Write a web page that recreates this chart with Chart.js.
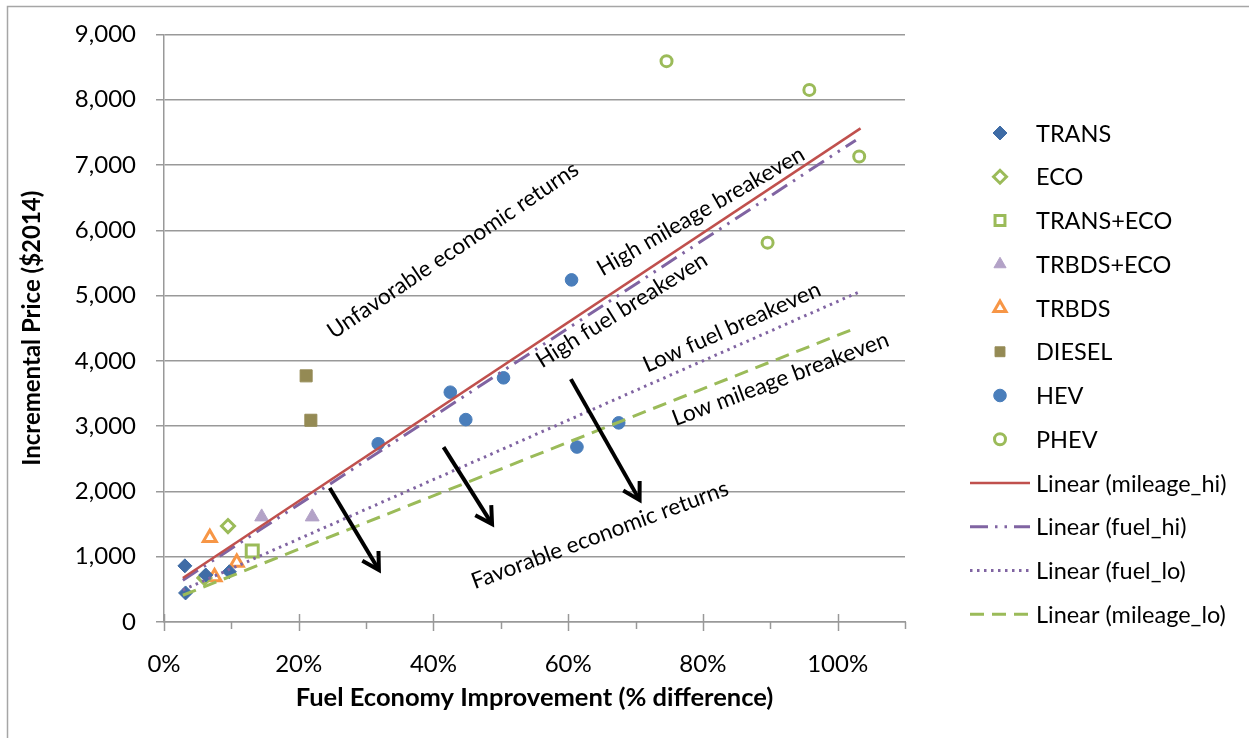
<!DOCTYPE html>
<html><head><meta charset="utf-8">
<script src="https://cdn.jsdelivr.net/npm/chart.js@4.4.1/dist/chart.umd.min.js"></script>
<style>html,body{margin:0;padding:0;background:#fff;}canvas{display:block;}</style>
</head><body>
<canvas id="c" width="1249" height="738"></canvas>
<script>
// ---------- data ----------
const xMin = 0, xMax = 110, xLabelStep = 20, xMinorStep = 10;
const yMin = 0, yMax = 9000, yStep = 1000;
const xTitle = 'Fuel Economy Improvement (% difference)';
const yTitle = 'Incremental Price ($2014)';

const seriesNames = ['TRANS','ECO','TRANS+ECO','TRBDS+ECO','TRBDS','DIESEL','HEV','PHEV'];
const transX = [3.1, 3.2, 6.2, 9.7];
const transY = [860, 445, 720, 770];
const ecoX = [9.5, 6.0];
const ecoY = [1470, 675];
const transEcoX = [13.1];
const transEcoY = [1087];
const trbdsEcoX = [14.5, 22.0];
const trbdsEcoY = [1610, 1610];
const trbdsX = [6.8, 7.5, 10.8];
const trbdsY = [1290, 690, 910];
const dieselX = [21.1, 21.8];
const dieselY = [3770, 3090];
const hevX = [31.8, 42.5, 44.8, 50.4, 60.5, 61.3, 67.5];
const hevY = [2730, 3520, 3100, 3740, 5240, 2680, 3050];
const phevX = [74.6, 95.8, 89.6, 103.2];
const phevY = [8590, 8150, 5810, 7130];

const trendNames = ['Linear (mileage_hi)','Linear (fuel_hi)','Linear (fuel_lo)','Linear (mileage_lo)'];
const mileageHiX = [2.8, 103.4];
const mileageHiY = [673, 7560];
const fuelHiX = [2.8, 102.7];
const fuelHiY = [640, 7380];
const fuelLoX = [2.8, 103.3];
const fuelLoY = [490, 5060];
const mileageLoX = [2.8, 102.4];
const mileageLoY = [410, 4490];

const noteTexts = ['Unfavorable economic returns','High mileage breakeven','High fuel breakeven','Low fuel breakeven','Low mileage breakeven','Favorable economic returns'];
const noteX = [42.9, 79.7, 67.95, 84.3, 91.5, 64.7];
const noteY = [5694, 6291, 4776, 4515, 3720, 1332];
const noteAngle = [-34, -30, -32, -24, -20.6, -20.4];

const arrowFromX = [24.6, 41.5, 60.4];
const arrowFromY = [2051, 2679, 3720];
const arrowToX = [31.9, 48.7, 70.6];
const arrowToY = [796, 1500, 1867];

// ---------- build ----------
const pts = (xs, ys) => xs.map((v, i) => ({x: v, y: ys[i]}));
const GREEN = '#9BBB59';
const scatterDefs = [
  {d: pts(transX, transY), style: 'rectRot', r: 7, bg: '#3F6CA6', bc: '#3F6CA6', bw: 1},
  {d: pts(ecoX, ecoY), style: 'rectRot', r: 6.5, bg: '#fff', bc: GREEN, bw: 3},
  {d: pts(transEcoX, transEcoY), style: 'rect', r: 8.5, bg: '#fff', bc: GREEN, bw: 3},
  {d: pts(trbdsEcoX, trbdsEcoY), style: 'triangle', r: 8, bg: '#B3A2C7', bc: '#B3A2C7', bw: 1},
  {d: pts(trbdsX, trbdsY), style: 'triangle', r: 7.5, bg: '#fff', bc: '#F79646', bw: 3},
  {d: pts(dieselX, dieselY), style: 'rect', r: 8.5, bg: '#948A54', bc: '#948A54', bw: 1},
  {d: pts(hevX, hevY), style: 'circle', r: 6.3, bg: '#4A7EBB', bc: '#4A7EBB', bw: 1},
  {d: pts(phevX, phevY), style: 'circle', r: 5.5, bg: '#fff', bc: GREEN, bw: 3}
];
const trendDefs = [
  {d: pts(mileageHiX, mileageHiY), c: '#C0504D', w: 2.5, dash: []},
  {d: pts(fuelHiX, fuelHiY), c: '#8064A2', w: 3, dash: [18, 7, 2.5, 7, 2.5, 7]},
  {d: pts(fuelLoX, fuelLoY), c: '#8064A2', w: 3, dash: [2.5, 4.5]},
  {d: pts(mileageLoX, mileageLoY), c: GREEN, w: 3, dash: [14, 8]}
];

const datasets = [];
scatterDefs.forEach((s, i) => datasets.push({
  label: seriesNames[i], data: s.d, order: 2, showLine: false,
  pointStyle: s.style, pointRadius: s.r, pointHoverRadius: s.r,
  pointBackgroundColor: s.bg, pointBorderColor: s.bc, pointBorderWidth: s.bw
}));
trendDefs.forEach((t, i) => datasets.push({
  label: trendNames[i], data: t.d, order: 1, showLine: true, pointRadius: 0,
  borderColor: t.c, borderWidth: t.w, borderDash: t.dash, fill: false
}));

const FONT = 'Lato';
const GRID = '#999999';

const overlay = {
  id: 'overlay',
  beforeDraw(chart) {
    const ctx = chart.ctx;
    ctx.save();
    ctx.fillStyle = '#fff';
    ctx.fillRect(0, 0, chart.width, chart.height);
    ctx.strokeStyle = '#a6a6a6';
    ctx.lineWidth = 1.5;
    ctx.beginPath();
    ctx.moveTo(7.5, chart.height); ctx.lineTo(7.5, 6.5); ctx.lineTo(chart.width, 6.5);
    ctx.stroke();
    ctx.restore();
  },
  afterDraw(chart) {
    const ctx = chart.ctx, x = chart.scales.x, y = chart.scales.y;
    ctx.save();
    // x-axis tick marks
    ctx.strokeStyle = GRID; ctx.lineWidth = 1.5;
    for (let v = xMin; v <= xMax + 1e-9; v += xMinorStep) {
      const px = Math.round(x.getPixelForValue(v)) + 0.5;
      const major = Math.abs(v % xLabelStep) < 1e-9;
      ctx.beginPath();
      ctx.moveTo(px, y.bottom - (major ? 8 : 0));
      ctx.lineTo(px, y.bottom + (major ? 9 : 7));
      ctx.stroke();
    }
    // arrows
    ctx.strokeStyle = '#000'; ctx.lineWidth = 4; ctx.lineCap = 'butt'; ctx.lineJoin = 'miter';
    arrowFromX.forEach((fx, i) => {
      const x0 = x.getPixelForValue(fx), y0 = y.getPixelForValue(arrowFromY[i]);
      const x1 = x.getPixelForValue(arrowToX[i]), y1 = y.getPixelForValue(arrowToY[i]);
      const a = Math.atan2(y1 - y0, x1 - x0);
      ctx.beginPath(); ctx.moveTo(x0, y0); ctx.lineTo(x1 - 2 * Math.cos(a), y1 - 2 * Math.sin(a)); ctx.stroke();
      const L = 19, h = 0.52;
      ctx.beginPath();
      ctx.moveTo(x1 - L * Math.cos(a - h), y1 - L * Math.sin(a - h));
      ctx.lineTo(x1, y1);
      ctx.lineTo(x1 - L * Math.cos(a + h), y1 - L * Math.sin(a + h));
      ctx.stroke();
    });
    // rotated notes
    ctx.fillStyle = '#000';
    ctx.font = '22.5px ' + FONT;
    ctx.textAlign = 'center'; ctx.textBaseline = 'middle';
    noteTexts.forEach((t, i) => {
      ctx.save();
      ctx.translate(x.getPixelForValue(noteX[i]), y.getPixelForValue(noteY[i]));
      ctx.rotate(noteAngle[i] * Math.PI / 180);
      ctx.fillText(t, 0, 0);
      ctx.restore();
    });
    // legend
    const lx = 1000, tx = 1036, y0 = 133, dy = 43.75;
    ctx.font = '23.5px ' + FONT;
    ctx.textAlign = 'left'; ctx.textBaseline = 'middle';
    chart.data.datasets.forEach((ds, i) => {
      const yy = y0 + i * dy;
      if (!ds.showLine) {
        ctx.save();
        ctx.fillStyle = ds.pointBackgroundColor; ctx.strokeStyle = ds.pointBorderColor;
        ctx.lineWidth = ds.pointBorderWidth;
        Chart.helpers.drawPoint(ctx, {pointStyle: ds.pointStyle, radius: Math.min(ds.pointRadius, 7), rotation: 0, borderWidth: ds.pointBorderWidth}, lx, yy);
        ctx.restore();
      } else {
        ctx.save();
        ctx.strokeStyle = ds.borderColor; ctx.lineWidth = ds.borderWidth;
        ctx.setLineDash(ds.borderDash);
        ctx.beginPath(); ctx.moveTo(970, yy); ctx.lineTo(1030, yy); ctx.stroke();
        ctx.restore();
      }
      ctx.fillStyle = '#000';
      ctx.fillText(ds.label, tx, yy + 1);
    });
    ctx.restore();
  }
};

new Chart(document.getElementById('c'), {
  type: 'scatter',
  data: {datasets},
  plugins: [overlay],
  options: {
    responsive: false, animation: false, devicePixelRatio: 1,
    layout: {padding: {left: 0, right: 344, top: 34, bottom: 0}},
    plugins: {legend: {display: false}, tooltip: {enabled: false}},
    scales: {
      x: {
        type: 'linear', min: xMin, max: xMax,
        afterFit: s => { s.height = 116; },
        grid: {drawOnChartArea: false, drawTicks: false},
        border: {display: true, color: GRID, width: 1.5},
        ticks: {stepSize: xMinorStep, autoSkip: false, maxRotation: 0, padding: 28, color: '#000',
          font: {family: FONT, size: 24},
          callback: v => (v % xLabelStep === 0 && v <= 100) ? v + '%' : ''},
        title: {display: true, text: xTitle, color: '#000', font: {family: FONT, size: 25.5, weight: 'bold'}, padding: {top: 0, bottom: 25}}
      },
      y: {
        type: 'linear', min: yMin, max: yMax,
        afterFit: s => { s.width = 164; },
        grid: {color: GRID, lineWidth: 1.5, drawTicks: true, tickLength: 8, tickColor: GRID},
        border: {display: true, color: GRID, width: 1.5},
        ticks: {stepSize: yStep, padding: 20, color: '#000', font: {family: FONT, size: 24},
          callback: v => v.toLocaleString('en-US')},
        title: {display: true, text: yTitle, color: '#000', font: {family: FONT, size: 24, weight: 'bold'}, padding: {top: 18, bottom: 0}}
      }
    }
  }
});
</script>
</body></html>
